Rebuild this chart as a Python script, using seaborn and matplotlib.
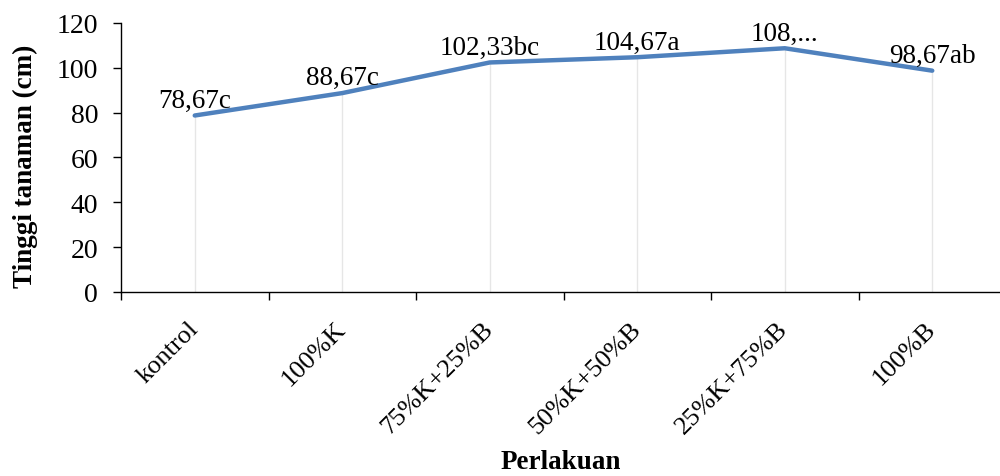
import matplotlib
matplotlib.use("Agg")
import matplotlib.pyplot as plt
import seaborn as sns
import pandas as pd
import numpy as np
from matplotlib.ticker import FixedLocator

categories = ["kontrol", "100%K", "75%K+25%B", "50%K+50%B", "25%K+75%B", "100%B"]
values = [78.67, 88.67, 102.33, 104.67, 108.67, 98.67]
labels = ["78,67c", "88,67c", "102,33bc", "104,67a", "108,...", "98,67ab"]
yticks = [0, 20, 40, 60, 80, 100, 120]

sns.set_theme(style="white")
plt.rcParams['font.family'] = ['Liberation Serif', 'DejaVu Serif']
plt.rcParams['text.color'] = 'black'
plt.rcParams['axes.labelcolor'] = 'black'
plt.rcParams['xtick.color'] = 'black'
plt.rcParams['ytick.color'] = 'black'

fig = plt.figure(figsize=(10, 4.77), dpi=100)
ax = fig.add_axes([0.121, 0.386, 0.885, 0.564])

df = pd.DataFrame({"Perlakuan": categories, "Tinggi": values})
pos = np.arange(len(categories))

ax.vlines(pos, 0, values, color="#e6e6e6", lw=1.0, zorder=1)
sns.lineplot(data=df, x="Perlakuan", y="Tinggi", sort=False, ax=ax,
             color="#4f81bd", lw=3.2, zorder=3)

for x, v, t in zip(pos, values, labels):
    ax.annotate(t, (x, v), xytext=(0, 2), textcoords="offset points",
                ha="center", va="bottom", fontsize=19.5, color="black")

ax.set_xlim(-0.5, len(categories) - 0.5)
ax.set_ylim(0, 120)
ax.set_yticks(yticks)
ax.set_yticklabels([str(t) for t in yticks], fontsize=20)
ax.set_xticks(pos)
ax.set_xticklabels(categories, rotation=45, ha="right", va="center",
                   rotation_mode="anchor", fontsize=19)
ax.xaxis.set_minor_locator(FixedLocator(np.arange(-0.5, len(categories), 1.0)))
ax.tick_params(axis="x", which="major", length=0, pad=24)
ax.tick_params(axis="x", which="minor", length=5.5, width=1, color="black", direction="out", bottom=True)
ax.tick_params(axis="y", length=5.5, width=1, color="black", direction="out", left=True, pad=11)

for s in ["top", "right"]:
    ax.spines[s].set_visible(False)
for s in ["left", "bottom"]:
    ax.spines[s].set_color("black")
    ax.spines[s].set_linewidth(1.0)

ax.set_xlabel("Perlakuan", fontsize=19.5, fontweight="bold")
ax.set_ylabel("Tinggi tanaman (cm)", fontsize=19.5, fontweight="bold")
ax.xaxis.set_label_coords(0.497, -0.585)
ax.yaxis.set_label_coords(-0.094, 0.472)

fig.savefig("out.png", dpi=100)
